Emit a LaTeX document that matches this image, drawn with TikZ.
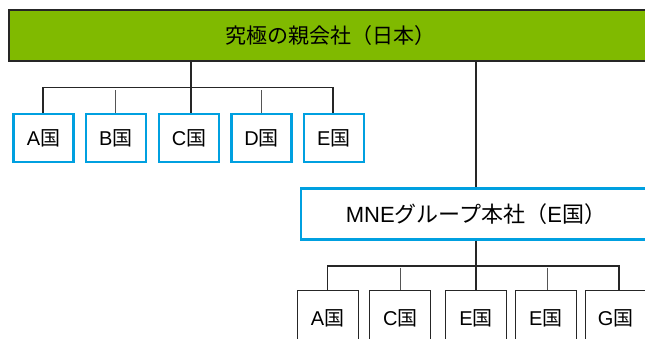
\documentclass[tikz,border=0pt]{standalone}
\usepackage{fontspec}
\setmainfont{Liberation Sans}
\newfontfamily\jpfont{Noto Sans CJK JP}
\definecolor{topgreen}{HTML}{80BA00}
\definecolor{boxcyan}{HTML}{00A0E0}
\definecolor{linegray}{HTML}{555555}
\begin{document}
\begin{tikzpicture}[x=1pt,y=-1pt,
  txt/.style={font=\fontsize{20}{24}\selectfont, text=black, inner sep=0pt},
  topbox/.style={draw=black!85, line width=1.5pt, fill=topgreen, txt, font=\fontsize{21}{25}\selectfont},
  cybox/.style={draw=boxcyan, line width=2.5pt, fill=white, txt, minimum width=60pt, minimum height=48pt},
  mnebox/.style={draw=boxcyan, line width=2.5pt, fill=white, txt, font=\fontsize{22}{26}\selectfont},
  lowbox/.style={draw=black!85, line width=1pt, fill=white, txt, minimum width=61pt, minimum height=56pt},
  conn/.style={draw=black!85, line width=1.7pt},
  gconn/.style={draw=linegray, line width=1.3pt}]
\useasboundingbox (0,0) rectangle (645,338);
% top box
\node[topbox, minimum width=642pt, minimum height=51pt] (top) at (330,35.5) {\jpfont 究極の親会社（日本）};
% first row
\node[cybox] (a1) at (43.5,138) {A{\jpfont 国}};
\node[cybox] (b1) at (115.8,138) {B{\jpfont 国}};
\node[cybox] (c1) at (189,138) {C{\jpfont 国}};
\node[cybox] (d1) at (261.5,138) {D{\jpfont 国}};
\node[cybox] (e1) at (333.8,138) {E{\jpfont 国}};
\coordinate (bus1) at (0,87.5);
\coordinate (tr1) at (190.7,0);
\draw[conn] (top.south -| tr1) -- (c1.north -| tr1);
\draw[conn] (a1.north -| 42.7,0) |- (bus1 -| 332.7,0) -- (e1.north -| 332.7,0);
\draw[gconn] (b1.north) ++(0,-22.5) -- (b1.north);
\draw[gconn] (d1.north) ++(0,-22.5) -- (d1.north);
% MNE box
\node[mnebox, minimum width=350pt, minimum height=51pt] (mne) at (476,213.8) {MNE{\jpfont グループ本社（}E{\jpfont 国）}};
\coordinate (tr2) at (476,0);
\draw[conn] (top.south -| tr2) -- (mne.north -| tr2);
% second row
\node[lowbox] (a2) at (327.6,318) {A{\jpfont 国}};
\node[lowbox] (c2) at (400.4,318) {C{\jpfont 国}};
\node[lowbox] (e2) at (476,318) {E{\jpfont 国}};
\node[lowbox] (f2) at (545.7,318) {E{\jpfont 国}};
\node[lowbox] (g2) at (615.6,318) {G{\jpfont 国}};
\coordinate (bus2) at (0,266);
\draw[conn] (mne.south -| tr2) -- (e2.north -| tr2);
\draw[conn] (a2.north) |- (bus2 -| 619,0) -- (g2.north -| 619,0);
\draw[gconn] (c2.north) ++(0,-22) -- (c2.north);
\draw[gconn] (f2.north -| 547.3,0) ++(0,-22) -- (f2.north -| 547.3,0);
\end{tikzpicture}
\end{document}
